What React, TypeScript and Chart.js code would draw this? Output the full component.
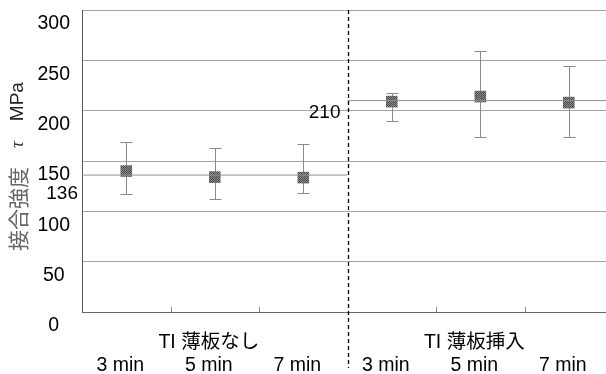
import React, { useEffect, useRef } from 'react';
import { Chart, registerables } from 'chart.js';

Chart.register(...registerables);

// ---- data ----
const CATEGORIES = ['3 min', '5 min', '7 min', '3 min', '5 min', '7 min'];
const GROUPS = ['TI 薄板なし', 'TI 薄板挿入'];
const GROUP_CENTER_INDEX = [1, 4];
const GROUP_RANGES = [[-0.5, 2.5], [2.5, 5.5]];
const STRENGTH = [140, 134, 133.5, 209, 214, 208];
const ERR_UPPER = [168.5, 162.5, 166.5, 218, 259, 244.5];
const ERR_LOWER = [117, 112, 118, 190, 173.5, 173.5];
const MEANS = [136, 210];
const MEAN_LABELS = ['136', '210'];
const Y_TICKS = [0, 50, 100, 150, 200, 250, 300];
const Y_TITLE_PARTS = ['接合強度', 'τ', 'MPa'];
const DIVIDER_AT = 2.5;

const FONT = '"Liberation Sans", Arial, "Noto Sans CJK JP", sans-serif';
const TITLE_FONTS = [
  '21px "Noto Sans CJK JP", sans-serif',
  'italic 19px "Liberation Serif", serif',
  '19px "Liberation Sans", Arial, sans-serif',
];
const TITLE_COLORS = ['#666', '#333', '#222'];
const TITLE_GAPS = [19, 20, 0];

function makePattern(): CanvasPattern | string {
  const c = document.createElement('canvas');
  c.width = 2;
  c.height = 2;
  const g = c.getContext('2d');
  if (!g) return '#6b6b6b';
  g.fillStyle = '#8c8c8c';
  g.fillRect(0, 0, 2, 2);
  g.fillStyle = '#4a4a4a';
  g.fillRect(0, 0, 1, 1);
  g.fillRect(1, 1, 1, 1);
  const p = g.createPattern(c, 'repeat');
  return p || '#6b6b6b';
}

const extrasPlugin = {
  id: 'extras',
  beforeDatasetsDraw(chart: any) {
    const { ctx } = chart;
    const xs = chart.scales.x;
    const ys = chart.scales.y;
    ctx.save();
    ctx.strokeStyle = '#8a8a8a';
    ctx.lineWidth = 1;
    STRENGTH.forEach((_, i) => {
      const x = Math.round(xs.getPixelForValue(i)) + 0.5;
      const yt = Math.round(ys.getPixelForValue(ERR_UPPER[i])) + 0.5;
      const yb = Math.round(ys.getPixelForValue(ERR_LOWER[i])) + 0.5;
      ctx.beginPath();
      ctx.moveTo(x, yt);
      ctx.lineTo(x, yb);
      ctx.moveTo(x - 6, yt);
      ctx.lineTo(x + 6, yt);
      ctx.moveTo(x - 6, yb);
      ctx.lineTo(x + 6, yb);
      ctx.stroke();
    });
    ctx.restore();
  },
  afterDraw(chart: any) {
    const { ctx, chartArea } = chart;
    const xs = chart.scales.x;
    const ys = chart.scales.y;
    ctx.save();
    // inner tick marks at category boundaries
    ctx.strokeStyle = '#8a8a8a';
    ctx.lineWidth = 1;
    for (let i = 0; i < CATEGORIES.length - 1; i++) {
      const b = i + 0.5;
      if (b === DIVIDER_AT) continue;
      const x = Math.round(xs.getPixelForValue(b)) + 0.5;
      ctx.beginPath();
      ctx.moveTo(x, chartArea.bottom);
      ctx.lineTo(x, chartArea.bottom - 5);
      ctx.stroke();
    }
    // dashed divider
    const dx = Math.round(xs.getPixelForValue(DIVIDER_AT)) + 0.5;
    ctx.strokeStyle = '#000';
    ctx.lineWidth = 1.3;
    ctx.setLineDash([4, 3]);
    ctx.beginPath();
    ctx.moveTo(dx, chartArea.top);
    ctx.lineTo(dx, chart.height - 6);
    ctx.stroke();
    ctx.setLineDash([]);
    // mean value labels
    ctx.fillStyle = '#000';
    ctx.font = '19px ' + FONT;
    ctx.textAlign = 'right';
    ctx.textBaseline = 'middle';
    ctx.fillText(MEAN_LABELS[0], chartArea.left - 4, ys.getPixelForValue(MEANS[0]) + 19);
    ctx.fillText(MEAN_LABELS[1], dx - 8, ys.getPixelForValue(MEANS[1]) + 12);
    ctx.restore();

    // y-axis title (mixed fonts), rotated
    ctx.save();
    ctx.translate(18, 251);
    ctx.rotate(-Math.PI / 2);
    ctx.textAlign = 'left';
    ctx.textBaseline = 'middle';
    let pos = 0;
    Y_TITLE_PARTS.forEach((t, i) => {
      ctx.font = TITLE_FONTS[i];
      ctx.fillStyle = TITLE_COLORS[i];
      ctx.fillText(t, pos, 0);
      pos += ctx.measureText(t).width + TITLE_GAPS[i];
    });
    ctx.restore();
  },
};

export default function App() {
  const ref = useRef<HTMLCanvasElement | null>(null);

  useEffect(() => {
    const canvas = ref.current;
    if (!canvas) return;
    const pattern = makePattern();

    const meanSets = MEANS.map((m, g) => ({
      type: 'line' as const,
      data: [
        { x: GROUP_RANGES[g][0], y: m },
        { x: GROUP_RANGES[g][1], y: m },
      ],
      borderColor: '#8f8f8f',
      borderWidth: 1,
      pointRadius: 0,
      fill: false,
    }));

    const chart = new Chart(canvas, {
      type: 'scatter',
      data: {
        datasets: [
          ...meanSets,
          {
            type: 'scatter' as const,
            data: STRENGTH.map((v, i) => ({ x: i, y: v })),
            pointStyle: 'rect',
            pointRadius: 8.2,
            pointBackgroundColor: pattern as any,
            pointBorderWidth: 0,
          },
        ] as any,
      },
      options: {
        animation: false,
        responsive: false,
        maintainAspectRatio: false,
        layout: { autoPadding: false, padding: { top: 10, left: 0, right: 0, bottom: 0 } },
        plugins: {
          legend: { display: false },
          tooltip: { enabled: false },
        },
        scales: {
          x: {
            type: 'linear',
            min: -0.5,
            max: 5.42,
            afterBuildTicks: (s: any) => {
              s.ticks = CATEGORIES.map((_, i) => ({ value: i }));
            },
            afterFit: (s: any) => {
              s.height = 62;
              s.paddingLeft = 0;
              s.paddingRight = 0;
            },
            grid: { display: false, drawTicks: false },
            border: { display: true, color: '#666', width: 1 },
            ticks: {
              autoSkip: false,
              maxRotation: 0,
              minRotation: 0,
              padding: 19,
              labelOffset: -6,
              color: '#000',
              font: { family: FONT, size: 19.5, lineHeight: 1.2 },
              callback: (_v: any, i: number) => {
                const g = GROUP_CENTER_INDEX.indexOf(i);
                return [g >= 0 ? GROUPS[g] : '', CATEGORIES[i]];
              },
            },
          },
          y: {
            type: 'linear',
            min: 0,
            max: 300,
            afterBuildTicks: (s: any) => {
              s.ticks = Y_TICKS.map((v) => ({ value: v }));
            },
            afterFit: (s: any) => {
              s.width = 82;
              s.paddingTop = 0;
              s.paddingBottom = 0;
            },
            grid: { color: '#a3a3a3', lineWidth: 1, drawTicks: false },
            border: { display: true, color: '#555', width: 1 },
            ticks: {
              padding: 12,
              crossAlign: 'center',
              labelOffset: 14,
              color: '#000',
              font: { family: FONT, size: 19.5 },
            },
            title: { display: false },
          },
        },
      },
      plugins: [extrasPlugin],
    });

    return () => chart.destroy();
  }, []);

  return (
    <div style={{ position: 'fixed', left: 0, top: 0, width: 606, height: 374, background: '#fff' }}>
      <canvas ref={ref} width={606} height={374} style={{ display: 'block', width: 606, height: 374 }} />
    </div>
  );
}
